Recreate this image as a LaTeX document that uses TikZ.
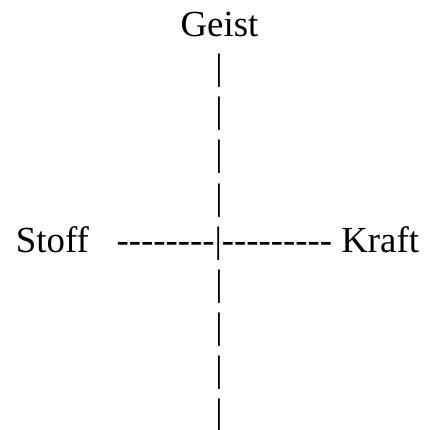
\documentclass[tikz,border=0pt]{standalone}
\usepackage{fontspec}
\newfontfamily\tnr{Liberation Serif}
\tikzset{
  txt/.style={inner sep=0pt, outer sep=0pt, font=\tnr\fontsize{36.8pt}{43pt}\selectfont, text=black},
  barline/.style={txt, anchor=base}
}
\begin{document}
\begin{tikzpicture}[x=1pt,y=1pt]
\useasboundingbox[fill=white] (0,0) rectangle (428,-430);
\node[txt, anchor=base] (geist) at (219.5,-37) {Geist};
\node[barline] (b1) at (219,-80) {|};
\node[barline] (b2) at (219,-123) {|};
\node[barline] (b3) at (219,-166) {|};
\node[barline] (b4) at (219,-209) {|};
\node[txt, anchor=base west] (stoff) at (16,-252) {Stoff\ \ \ --------|--------- Kraft};
\node[barline] (b5) at (219,-295) {|};
\node[barline] (b6) at (219,-338) {|};
\node[barline] (b7) at (219,-381) {|};
\node[barline] (b8) at (219,-424) {|};
\end{tikzpicture}
\end{document}
